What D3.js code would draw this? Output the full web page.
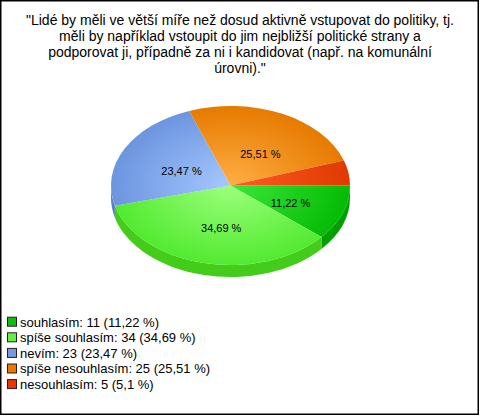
<!DOCTYPE html>
<html><head><meta charset="utf-8">
<script src="https://cdn.jsdelivr.net/npm/d3@7"></script>
<style>html,body{margin:0;padding:0;background:#fff}svg{display:block}</style>
</head><body>
<script>
const titleLines = ['"Lidé by měli ve větší míře než dosud aktivně vstupovat do politiky, tj.',
  'měli by například vstoupit do jim nejbližší politické strany a',
  'podporovat ji, případně za ni i kandidovat (např. na komunální',
  'úrovni)."'];
const categories = ["souhlasím", "spíše souhlasím", "nevím", "spíše nesouhlasím", "nesouhlasím"];
const counts = [11, 34, 23, 25, 5];
const percents = ["11,22", "34,69", "23,47", "25,51", "5,1"];
const showLabel = [true, true, true, true, false];
const colorsInner = ["#3ae83a", "#9cff7c", "#a6c8ff", "#ffae44", "#ff5c24"];
const colorsOuter = ["#05bb05", "#52ea30", "#6c95e0", "#e67a00", "#df3a00"];
const colorsSide  = ["#01a001", "#44cc1a", "#5a80c8", "#c86400", "#c03000"];
const legendColors = ["#11bb11", "#66ee44", "#7799dd", "#ee7700", "#ee3300"];

(function () {
const W = 480, H = 416;
const cx = 230.5, cy = 185.5, rx = 119.5, ry = 79.5, depth = 12;

const svg = d3.select("body").append("svg").attr("width", W).attr("height", H);
svg.append("rect").attr("x", 0.75).attr("y", 0.75).attr("width", W - 2.5).attr("height", H - 2.5)
  .attr("fill", "#fff").attr("stroke", "#000").attr("stroke-width", 1.5);

const font = "Liberation Sans, Arial, sans-serif";
svg.append("g").selectAll("text").data(titleLines).join("text")
  .attr("x", 240).attr("y", (d, i) => 25 + i * 16)
  .attr("text-anchor", "middle").attr("font-family", font).attr("font-size", 14)
  .attr("fill", "#000").text(d => d);

const pie = d3.pie().sort(null).startAngle(Math.PI / 2).endAngle(Math.PI / 2 + 2 * Math.PI);
const arcsData = pie(counts);

const defs = svg.append("defs");
arcsData.forEach((d, i) => {
  const g = defs.append("radialGradient").attr("id", "rg" + i)
    .attr("gradientUnits", "userSpaceOnUse").attr("cx", 0).attr("cy", 0).attr("r", rx);
  g.append("stop").attr("offset", "0%").attr("stop-color", colorsInner[i]);
  g.append("stop").attr("offset", "100%").attr("stop-color", colorsOuter[i]);
});

const sa = a => a - Math.PI / 2;
const px = t => cx + rx * Math.cos(t), py = t => cy + ry * Math.sin(t);
const norm = t => ((t % (2 * Math.PI)) + 2 * Math.PI) % (2 * Math.PI);

const sides = svg.append("g");
arcsData.forEach((d, i) => {
  const t0 = sa(d.startAngle), t1 = sa(d.endAngle);
  const a0 = norm(t0), a1 = a0 + (t1 - t0);
  [[0, Math.PI], [2 * Math.PI, 3 * Math.PI]].forEach(([lo, hi]) => {
    const s = Math.max(a0, lo), e = Math.min(a1, hi);
    if (e > s) {
      const large = (e - s) > Math.PI ? 1 : 0;
      const p = `M${px(s)},${py(s)} A${rx},${ry} 0 ${large} 1 ${px(e)},${py(e)} L${px(e)},${py(e) + depth} A${rx},${ry} 0 ${large} 0 ${px(s)},${py(s) + depth} Z`;
      sides.append("path").attr("d", p).attr("fill", colorsSide[i]);
    }
  });
});

const face = svg.append("g").attr("transform", `translate(${cx},${cy}) scale(1,${ry / rx})`);
const arc = d3.arc().innerRadius(0).outerRadius(rx);
face.selectAll("path").data(arcsData).join("path")
  .attr("d", arc).attr("fill", (d, i) => `url(#rg${i})`);

const labelArc = d3.arc().innerRadius(rx * 0.5).outerRadius(rx * 0.5);
svg.append("g").selectAll("text").data(arcsData.filter((d, i) => showLabel[i])).join("text")
  .attr("x", d => cx + labelArc.centroid(d)[0] + 4)
  .attr("y", d => cy + labelArc.centroid(d)[1] * ry / rx + 8)
  .attr("text-anchor", "middle").attr("font-family", font).attr("font-size", 11)
  .attr("fill", "#000").text(d => percents[d.index] + " %");

const leg = svg.append("g").selectAll("g").data(categories).join("g")
  .attr("transform", (d, i) => `translate(0,${321.7 + i * 15.6})`);
leg.append("rect").attr("x", 7.5).attr("y", -4.5).attr("width", 9).attr("height", 9)
  .attr("fill", (d, i) => legendColors[i]).attr("stroke", "#222").attr("stroke-width", 1);
leg.append("text").attr("x", 20).attr("y", 4.8).attr("font-family", font).attr("font-size", 13)
  .attr("fill", "#000").text((d, i) => `${d}: ${counts[i]} (${percents[i]} %)`);
})();
</script>
</body></html>
